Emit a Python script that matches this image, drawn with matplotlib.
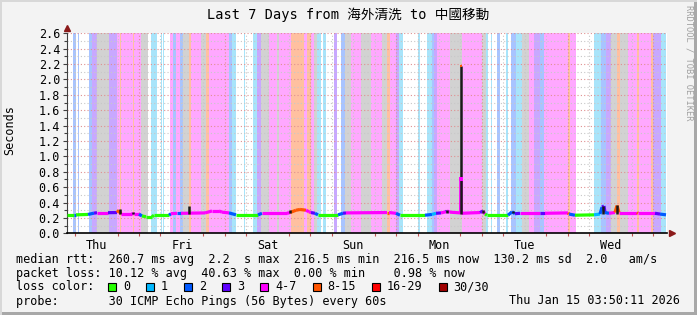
import matplotlib
matplotlib.use('Agg')
import matplotlib.pyplot as plt
from matplotlib.patches import Rectangle

plt.rcParams['font.family'] = ['DejaVu Sans Mono', 'Noto Sans CJK TC']

W, H = 697, 315

# loss classes (30 pings)
loss_labels = ['0', '1', '2', '3', '4-7', '8-15', '16-29', '30/30']
loss_colors = ['#26ff00', '#00b8ff', '#0059ff', '#5e00ff', '#ff00ff', '#ff5500', '#ff0000', '#a00000']

# background loss bands, hours since start of the graph
band_start = [1.68, 3.08, 6.16, 7.0, 8.4, 11.76, 14.0, 14.84, 15.12, 18.48,
              18.76, 20.72, 23.52, 26.32, 26.88, 28.84, 29.68, 30.52, 31.64, 32.48,
              34.16, 34.72, 37.52, 38.92, 39.76, 45.36, 46.2, 49.56, 52.08, 53.2,
              54.32, 56.56, 58.8, 59.36, 62.72, 66.36, 67.2, 68.32, 69.16, 70.0,
              71.68, 74.76, 76.72, 77.84, 79.52, 82.32, 85.12, 88.2, 89.6, 90.44,
              92.12, 92.96, 98.28, 100.8, 102.2, 102.76, 103.6, 107.24, 110.6, 116.2,
              117.32, 118.72, 120.4, 122.92, 124.32, 125.72, 127.4, 129.36, 130.76, 132.44,
              133.56, 140.28, 140.84, 147.56, 149.52, 150.92, 152.32, 154.0, 154.84, 157.08,
              159.6, 160.16, 163.52, 164.08, 166.32]
band_end = [2.52, 3.36, 7.0, 8.4, 11.76, 14.0, 14.84, 15.12, 18.48, 18.76,
            20.72, 22.68, 25.2, 26.6, 27.16, 29.68, 30.52, 31.64, 32.48, 34.16,
            34.72, 37.52, 38.92, 39.76, 45.36, 46.2, 47.32, 49.84, 53.2, 54.32,
            56.56, 58.8, 59.36, 62.72, 66.36, 67.2, 68.32, 69.16, 70.0, 71.12,
            72.52, 75.6, 77.84, 79.52, 82.32, 85.12, 88.2, 89.6, 90.44, 92.12,
            92.96, 94.08, 98.84, 102.2, 102.76, 103.6, 107.24, 110.6, 116.2, 117.32,
            117.88, 119.0, 121.24, 123.48, 125.72, 127.4, 129.36, 130.76, 132.44, 133.56,
            140.28, 140.84, 142.52, 149.52, 150.92, 152.32, 154.0, 154.84, 157.08, 159.6,
            160.16, 163.52, 164.08, 166.32, 167.72]
band_kind = list("bbblglpopo" "pgcccpbpbg" "opgopbcccl" "gpgpopopgc" "clbgpgpgop"
                 "lcccblpgpg" "ccbcbcgplb" "popcblgogp" "opolc")
band_colors = {'c': '#a8e4fa', 'b': '#a8c4ff', 'l': '#c8a8ff',
               'p': '#ffa8ff', 'o': '#ffc0a0', 'g': '#d2d2d2'}

# median rtt (seconds) and loss class of the following segment
med_h = [0, 1.96, 2.52, 5.88, 7.56, 8.4, 11.48, 14.0, 14.56, 15.12,
         18.2, 18.48, 18.76, 20.16, 21.0, 22.12, 23.8, 24.36, 28.56, 29.12,
         30.8, 31.92, 38.64, 40.6, 42.56, 43.4, 45.36, 47.32, 53.48, 54.6,
         61.6, 62.44, 64.12, 65.24, 66.92, 67.76, 68.32, 69.44, 70.28, 75.88,
         77.28, 78.12, 89.6, 90.16, 92.12, 93.24, 100.24, 102.2, 103.32, 104.72,
         106.12, 106.4, 107.24, 110.2, 110.32, 110.45, 115.64, 116.48, 117.04, 117.6,
         123.48, 124.6, 125.44, 126.84, 132.44, 133.84, 140.28, 140.56, 142.24, 147.56,
         149.24, 149.8, 150.36, 150.64, 151.76, 153.44, 154.0, 154.56, 159.6, 159.88,
         164.64, 166.04, 167.72]
med_v = [0.24, 0.24, 0.24, 0.245, 0.262, 0.268, 0.268, 0.27, 0.30, 0.25,
         0.25, 0.26, 0.25, 0.25, 0.225, 0.215, 0.215, 0.235, 0.235, 0.255,
         0.26, 0.26, 0.265, 0.29, 0.29, 0.275, 0.265, 0.24, 0.24, 0.26,
         0.26, 0.27, 0.30, 0.31, 0.30, 0.28, 0.27, 0.26, 0.24, 0.24,
         0.26, 0.265, 0.27, 0.27, 0.26, 0.235, 0.235, 0.245, 0.26, 0.265,
         0.28, 0.29, 0.275, 0.265, 0.70, 0.26, 0.27, 0.29, 0.25, 0.235,
         0.235, 0.28, 0.255, 0.26, 0.26, 0.26, 0.265, 0.25, 0.235, 0.24,
         0.25, 0.34, 0.355, 0.27, 0.26, 0.27, 0.36, 0.27, 0.27, 0.26,
         0.26, 0.25, 0.24]
med_loss = [0, 2, 0, 2, 3, 4, 3, 5, 5, 4,
            4, 4, 4, 2, 0, 0, 0, 0, 2, 4,
            2, 4, 4, 4, 4, 4, 2, 0, 2, 4,
            4, 5, 5, 5, 4, 4, 3, 2, 0, 2,
            3, 4, 5, 4, 2, 0, 2, 1, 3, 4,
            3, 4, 4, 4, 4, 4, 3, 4, 0, 0,
            2, 2, 3, 4, 3, 4, 5, 2, 0, 1,
            2, 3, 3, 2, 4, 5, 5, 4, 5, 4,
            3, 2, 2]

# smoke spikes (min / max rtt)
smoke_h = [14.84, 18.48, 34.16, 62.44, 106.4, 110.32, 116.48, 124.88, 150.08, 154.0]
smoke_lo = [0.25, 0.25, 0.25, 0.26, 0.26, 0.25, 0.27, 0.26, 0.25, 0.25]
smoke_hi = [0.32, 0.28, 0.36, 0.30, 0.30, 2.17, 0.30, 0.29, 0.36, 0.37]

day_names = ['Thu', 'Fri', 'Sat', 'Sun', 'Mon', 'Tue', 'Wed']
start_clock = 3 + 50 / 60 + 11 / 3600  # time of day at graph start

stats = [
    "median rtt:  260.7 ms avg  2.2  s max  216.5 ms min  216.5 ms now  130.2 ms sd  2.0   am/s",
    "packet loss: 10.12 % avg  40.63 % max  0.00 % min    0.98 % now",
]
probe = "probe:       30 ICMP Echo Pings (56 Bytes) every 60s"
stamp = "Thu Jan 15 03:50:11 2026"
title = "Last 7 Days from 海外清洗 to 中國移動"

assert len(band_start) == len(band_end) == len(band_kind)
assert len(med_h) == len(med_v) == len(med_loss)


def fx(px):
    return px / W


def fy(py):
    return 1 - py / H


fig = plt.figure(figsize=(W / 100, H / 100), dpi=100)
fig.patch.set_facecolor('#f3f3f3')
ax = fig.add_axes([fx(67), fy(233.3), 600 / W, 200 / H])
ax.set_facecolor('white')
ax.set_xlim(0, 168)
ax.set_ylim(0, 2.6)

for s, e, k in zip(band_start, band_end, band_kind):
    ax.axvspan(s, e, color=band_colors[k], lw=0, zorder=0)

# grid
for i in range(27):
    y = i * 0.1
    if i % 2 == 0:
        ax.axhline(y, color='#e09090', lw=0.8, ls=(0, (1, 2)), zorder=1)
    else:
        ax.axhline(y, color='#c8c8c8', lw=0.8, ls=(0, (1, 2)), zorder=1)
midnights = [24 - start_clock + 24 * k for k in range(7)]
sixes = [6 - start_clock + 6 * k for k in range(29) if 0 < 6 - start_clock + 6 * k < 168]
for x in sixes:
    if any(abs(x - m) < 0.01 for m in midnights):
        ax.axvline(x, color='#e09090', lw=0.8, ls=(0, (1, 2)), zorder=1)
    else:
        ax.axvline(x, color='#c8c8c8', lw=0.8, ls=(0, (1, 2)), zorder=1)

# median line
for i in range(len(med_h) - 1):
    ax.plot([med_h[i], med_h[i + 1]], [med_v[i], med_v[i + 1]],
            color=loss_colors[med_loss[i]], lw=2.3, solid_capstyle='butt', zorder=3)
ax.vlines(smoke_h, smoke_lo, smoke_hi, color='#1a1a1a', lw=1.8, zorder=4)
k = med_v.index(max(med_v))
ax.plot(med_h[k], med_v[k], 's', color=loss_colors[med_loss[k]], ms=2.5, mew=0, zorder=5)
k2 = smoke_hi.index(max(smoke_hi))
ax.plot(smoke_h[k2], smoke_hi[k2], 's', color=loss_colors[5], ms=1.5, mew=0, zorder=5)

# axes
for sp in ['top', 'right']:
    ax.spines[sp].set_visible(False)
ax.spines['left'].set_color('#404040')
ax.spines['bottom'].set_color('black')
ax.spines['bottom'].set_linewidth(1.2)
ax.set_yticks([i * 0.2 for i in range(14)])
ax.set_yticklabels(['%.1f' % (i * 0.2) for i in range(14)])
ax.set_yticks([i * 0.1 for i in range(27)], minor=True)
ax.set_xticks([12 - start_clock + 24 * d for d in range(7)])
ax.set_xticklabels(day_names)
ax.set_xticks(sixes, minor=True)
ax.tick_params(axis='y', which='major', length=3, width=0.8, color='#404040', labelsize=8.5, pad=2)
ax.tick_params(axis='y', which='minor', length=2, width=0.8, color='#404040')
ax.tick_params(axis='x', which='major', length=0, labelsize=8.5, pad=4)
ax.tick_params(axis='x', which='minor', length=2, width=0.8, color='#c05050')
ax.plot([1.008], [0], '>', color='#8b1a1a', ms=5, transform=ax.transAxes, clip_on=False, zorder=6)
ax.plot([0], [1.025], '^', color='#8b1a1a', ms=5, transform=ax.transAxes, clip_on=False, zorder=6)

# texts
fig.text(fx(348), fy(15), title, ha='center', va='center', fontsize=9.8)
fig.text(fx(10), fy(130), 'Seconds', rotation=90, ha='center', va='center', fontsize=8.5)
fig.text(fx(689), fy(5), 'RRDTOOL / TOBI OETIKER', rotation=270, ha='center', va='top',
         fontsize=6.3, color='#a0a0a0')
for j, line in enumerate(stats):
    fig.text(fx(16), fy(259 + 14 * j), line, ha='left', va='center', fontsize=8.5)
fig.text(fx(16), fy(287), 'loss color:', ha='left', va='center', fontsize=8.5)
x = 108
for lab, col in zip(loss_labels, loss_colors):
    fig.add_artist(Rectangle((fx(x), fy(291)), 8 / W, 8 / H, facecolor=col,
                             edgecolor='black', lw=0.8, transform=fig.transFigure))
    fig.text(fx(x + 15), fy(287), lab, ha='left', va='center', fontsize=8.5)
    x = x + 15 + len(lab) * 7.1 + 16
fig.text(fx(16), fy(301), probe, ha='left', va='center', fontsize=8.5)
fig.text(fx(680), fy(301), stamp, ha='right', va='center', fontsize=8.5)

# frame
fig.add_artist(Rectangle((0, 0), 1, 3 / H, facecolor='#a8a8a8', lw=0, transform=fig.transFigure))
fig.add_artist(Rectangle((1 - 3 / W, 0), 3 / W, 1, facecolor='#a8a8a8', lw=0, transform=fig.transFigure))
fig.add_artist(Rectangle((0, 1 - 2 / H), 1, 2 / H, facecolor='#d8d8d8', lw=0, transform=fig.transFigure))
fig.add_artist(Rectangle((0, 0), 2 / W, 1, facecolor='#d8d8d8', lw=0, transform=fig.transFigure))

fig.savefig('out.png', dpi=100, facecolor=fig.get_facecolor())
